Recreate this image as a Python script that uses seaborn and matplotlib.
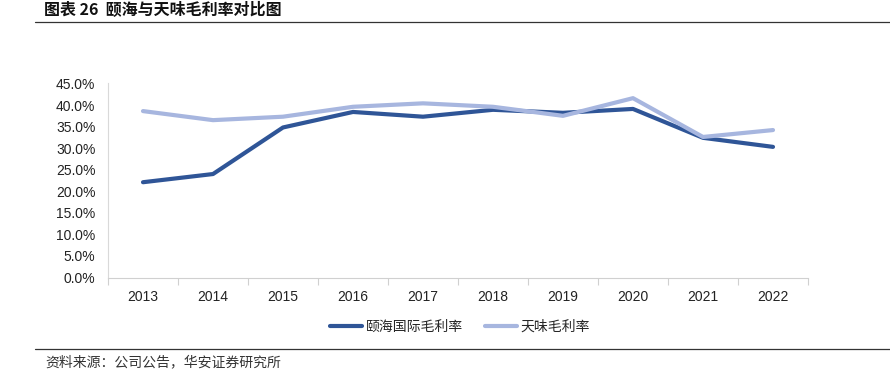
import matplotlib
matplotlib.use("Agg")
import matplotlib.pyplot as plt
import seaborn as sns
import pandas as pd
import numpy as np
from matplotlib.ticker import FuncFormatter, FixedLocator
from matplotlib.lines import Line2D

years = ["2013", "2014", "2015", "2016", "2017", "2018", "2019", "2020", "2021", "2022"]
yihai = [22.1, 24.0, 34.8, 38.4, 37.3, 38.9, 38.2, 39.1, 32.4, 30.3]
tianwei = [38.6, 36.5, 37.3, 39.6, 40.4, 39.6, 37.5, 41.6, 32.6, 34.2]
series_names = ["颐海国际毛利率", "天味毛利率"]
colors = ["#2F5597", "#A7B6DF"]
yticks = [0, 5, 10, 15, 20, 25, 30, 35, 40, 45]

sns.set_theme(style="white")
plt.rcParams['font.family'] = ['Noto Sans CJK SC', 'DejaVu Sans']

df = pd.DataFrame({
    "year": years * 2,
    "x": list(range(len(years))) * 2,
    "value": [v / 100 for v in yihai] + [v / 100 for v in tianwei],
    "series": [series_names[0]] * len(years) + [series_names[1]] * len(years),
})

fig = plt.figure(figsize=(8.9, 3.75), dpi=100)
ax = fig.add_axes([108 / 890, 1 - 277.5 / 375, 700 / 890, 194 / 375])

sns.lineplot(data=df, x="x", y="value", hue="series", palette=colors,
             hue_order=series_names, linewidth=3, ax=ax, legend=False,
             sort=False)

ax.set_xlim(-0.5, len(years) - 0.5)
ax.set_ylim(0, 0.45)
ax.set_yticks([t / 100 for t in yticks])
ax.yaxis.set_major_formatter(FuncFormatter(lambda v, p: f"{v*100:.1f}%"))
ax.set_xticks(range(len(years)))
ax.set_xticklabels(years)
ax.xaxis.set_minor_locator(FixedLocator(np.arange(-0.5, len(years), 1.0)))
ax.tick_params(axis="x", which="major", length=0, pad=9, labelsize=10, colors="#222222")
ax.tick_params(axis="x", which="minor", length=5, width=0.8, color="#D0D0D0", direction="out", bottom=True)
ax.tick_params(axis="y", length=0, pad=9, labelsize=10, colors="#222222")
for lab in ax.get_xticklabels() + ax.get_yticklabels():
    lab.set_family(['Liberation Sans', 'DejaVu Sans'])
ax.set_xlabel("")
ax.set_ylabel("")
for s in ["top", "right"]:
    ax.spines[s].set_visible(False)
ax.spines["left"].set_color("#D9D9D9")
ax.spines["bottom"].set_color("#D0D0D0")
ax.spines["left"].set_linewidth(0.8)
ax.spines["bottom"].set_linewidth(0.8)

# legend
handles = [Line2D([0], [0], color=c, lw=3) for c in colors]
fig.legend(handles, series_names, loc="center", bbox_to_anchor=(460 / 890, 1 - 327 / 375),
           ncol=2, frameon=False, fontsize=10, handlelength=2.3, columnspacing=1.6,
           handletextpad=0.25)

# title and footer
fig.text(44 / 890, 1 - 10 / 375, "图表 26  颐海与天味毛利率对比图", fontsize=11.5, fontweight="bold",
         va="center", ha="left", color="#111111")
fig.add_artist(Line2D([35 / 890, 1.0], [1 - 22 / 375, 1 - 22 / 375], color="#333333", lw=0.9,
                      transform=fig.transFigure))
fig.add_artist(Line2D([35 / 890, 1.0], [1 - 349 / 375, 1 - 349 / 375], color="#333333", lw=0.9,
                      transform=fig.transFigure))
fig.text(45 / 890, 1 - 362 / 375, "资料来源：公司公告，华安证券研究所", fontsize=10,
         va="center", ha="left", color="#333333")

fig.savefig("out.png", dpi=100)
